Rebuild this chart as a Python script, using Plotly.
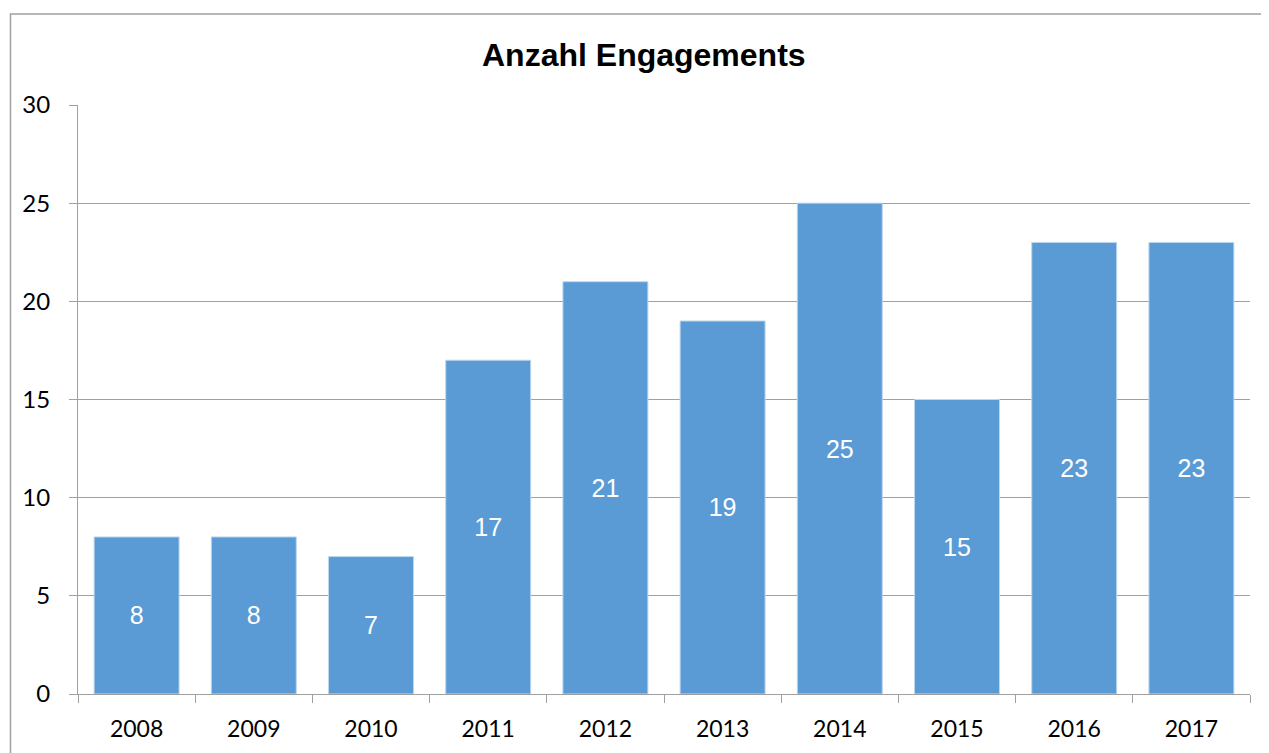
import plotly.graph_objects as go

years = ["2008", "2009", "2010", "2011", "2012", "2013", "2014", "2015", "2016", "2017"]
counts = [8, 8, 7, 17, 21, 19, 25, 15, 23, 23]
title_text = "Anzahl Engagements"

OFF = 8  # default page body margin
W, H = 1269 - OFF, 753 - OFF
L, R, T, B = 78 - OFF, 1250 - OFF, 105 - OFF, 694 - OFF
pw, ph = R - L, B - T

def px_x(x):
    return (x - OFF - L) / pw

def px_y(y):
    return (B - (y - OFF)) / ph

fig = go.Figure(
    go.Bar(
        x=years,
        y=counts,
        text=[str(v) for v in counts],
        textposition="inside",
        insidetextanchor="middle",
        textangle=0,
        textfont=dict(family="Liberation Sans, Arial", size=25, color="white"),
        marker=dict(color="#5B9BD5", line=dict(color="#BDD7EE", width=1)),
        hoverinfo="x+y",
    )
)

fig.update_layout(
    width=W,
    height=H,
    margin=dict(l=L, r=W - R, t=T, b=H - B, autoexpand=False),
    paper_bgcolor="white",
    plot_bgcolor="white",
    bargap=0.275,
    showlegend=False,
    font=dict(family="Lato, Open Sans, sans-serif", size=23, color="black"),
    xaxis=dict(
        type="category",
        automargin=False,
        tickson="boundaries",
        ticks="outside",
        ticklen=8,
        tickcolor="#A0A0A0",
        tickwidth=1,
        showline=True,
        linecolor="#A0A0A0",
        linewidth=1,
        showgrid=False,
        tickfont=dict(size=23, color="black"),
        ticklabelstandoff=14,
    ),
    yaxis=dict(
        range=[0, 30],
        dtick=5,
        automargin=False,
        ticks="outside",
        ticklen=8,
        tickcolor="#A0A0A0",
        tickwidth=1,
        showline=True,
        linecolor="#A0A0A0",
        linewidth=1,
        showgrid=True,
        gridcolor="#A0A0A0",
        gridwidth=1,
        zeroline=False,
        tickfont=dict(size=24, color="black"),
        ticklabelstandoff=14,
    ),
    annotations=[
        dict(
            text="<b>" + title_text + "</b>",
            xref="paper",
            yref="paper",
            x=px_x(644),
            y=px_y(55),
            xanchor="center",
            yanchor="middle",
            showarrow=False,
            font=dict(family="Liberation Sans, Arial", size=32, color="black"),
        )
    ],
    shapes=[
        dict(
            type="rect",
            xref="paper",
            yref="paper",
            x0=px_x(10.5),
            x1=px_x(1400),
            y0=px_y(900),
            y1=px_y(14),
            line=dict(color="#A0A0A0", width=1.5),
            fillcolor="rgba(0,0,0,0)",
            layer="below",
        )
    ],
)

fig.write_html("out.html")
